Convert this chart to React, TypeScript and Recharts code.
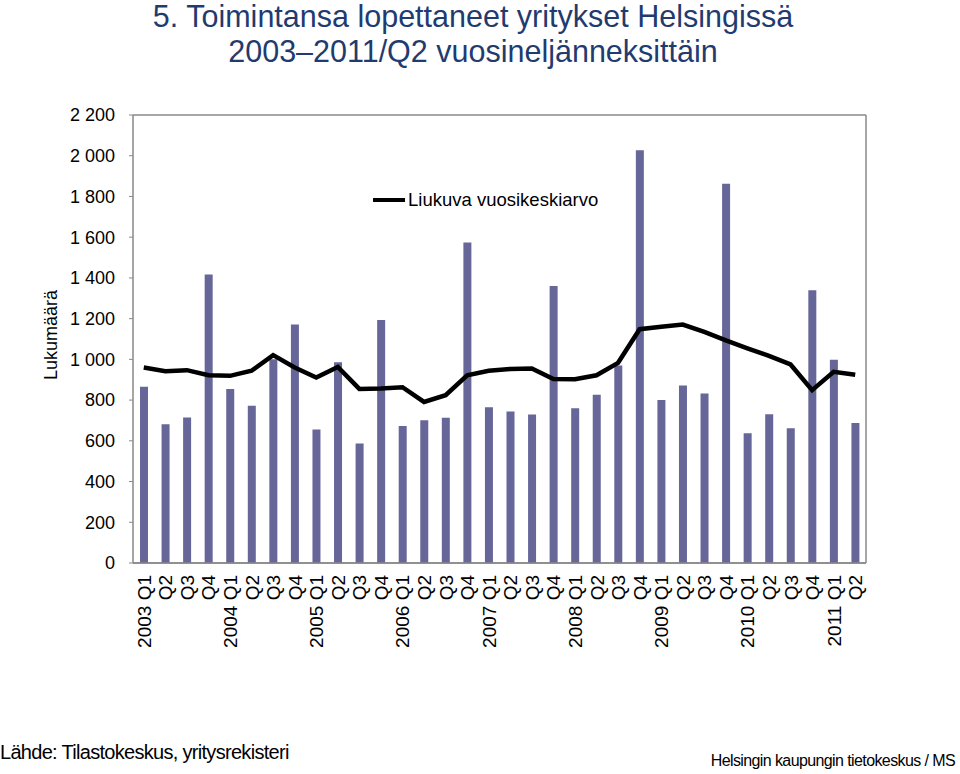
import React from 'react';
import { ComposedChart, Bar, Line, XAxis, YAxis, CartesianGrid } from 'recharts';

const quarters = [
  '2003 Q1', 'Q2', 'Q3', 'Q4',
  '2004 Q1', 'Q2', 'Q3', 'Q4',
  '2005 Q1', 'Q2', 'Q3', 'Q4',
  '2006 Q1', 'Q2', 'Q3', 'Q4',
  '2007 Q1', 'Q2', 'Q3', 'Q4',
  '2008 Q1', 'Q2', 'Q3', 'Q4',
  '2009 Q1', 'Q2', 'Q3', 'Q4',
  '2010 Q1', 'Q2', 'Q3', 'Q4',
  '2011 Q1', 'Q2',
];

const closures = [
  865, 681, 714, 1417,
  854, 772, 1000, 1171,
  655, 986, 587, 1193,
  673, 701, 713, 1574,
  765, 744, 729, 1360,
  760, 826, 970, 2027,
  800, 872, 832, 1862,
  637, 731, 662, 1340,
  998, 688,
];

const movingAvg = [
  960, 942, 947, 922,
  919, 944, 1021, 960,
  911, 963, 855, 857,
  863, 791, 824, 922,
  944, 953, 955, 903,
  902, 922, 983, 1148,
  1160, 1171, 1135, 1093,
  1054, 1017, 975, 849,
  939, 924,
];

const yTicks = [0, 200, 400, 600, 800, 1000, 1200, 1400, 1600, 1800, 2000, 2200];

const data = quarters.map((q, i) => ({ q, count: closures[i], avg: movingAvg[i] }));

const FONT = '"Liberation Sans", Arial, sans-serif';

const fmt = (v: number) => String(v).replace(/\B(?=(\d{3})+(?!\d))/g, ' ');

const QuarterTick = (props: any) => {
  const { x, y, payload } = props;
  const tx = x + 7;
  const ty = y + 4;
  return (
    <text x={tx} y={ty} transform={`rotate(-90, ${tx}, ${ty})`} textAnchor="end"
      fontSize={19} fill="#000" fontFamily={FONT}>
      {payload.value}
    </text>
  );
};

export default function App() {
  return (
    <div style={{ position: 'absolute', left: 0, top: 0, width: 960, height: 774, background: '#fff', fontFamily: FONT }}>
      <ComposedChart width={960} height={774} data={data}
        margin={{ top: 115, right: 0, bottom: 111, left: 0 }} barCategoryGap={0}>
        <CartesianGrid vertical={false} stroke="#888" strokeWidth={1.5} />
        <XAxis dataKey="q" interval={0} height={100} tick={<QuarterTick />}
          tickLine={false} axisLine={{ stroke: '#888', strokeWidth: 1.5 }} />
        <YAxis yAxisId="l" domain={[0, 2200]} ticks={yTicks} width={133}
          tickFormatter={fmt} tick={{ fontSize: 18, fill: '#000', fontFamily: FONT }}
          tickLine={{ stroke: '#888' }} tickSize={4} tickMargin={14}
          axisLine={{ stroke: '#888', strokeWidth: 1.5 }}
          label={{
            content: () => (
              <text x={57} y={335} transform="rotate(-90, 57, 335)" textAnchor="middle"
                fontSize={18} fill="#000" fontFamily={FONT}>Lukumäärä</text>
            ),
          }} />
        <YAxis yAxisId="r" orientation="right" domain={[0, 2200]} ticks={yTicks} width={94}
          tickFormatter={fmt} tick={{ fontSize: 18, fill: '#000', fontFamily: FONT, textAnchor: 'start' }}
          tickLine={false} tickMargin={16}
          axisLine={{ stroke: '#888', strokeWidth: 1.5 }} />
        <Bar yAxisId="l" dataKey="count" fill="#666699" barSize={8} isAnimationActive={false} />
        <Line yAxisId="l" dataKey="avg" type="linear" stroke="#000" strokeWidth={4.5} dot={false}
          isAnimationActive={false} />
      </ComposedChart>
      <div style={{ position: 'absolute', left: 337, top: 180, width: 294, height: 40, display: 'flex', alignItems: 'center', background: '#fff', fontSize: 18.5, color: '#000' }}>
        <span style={{ display: 'inline-block', width: 32, height: 4, background: '#000', marginLeft: 36, marginRight: 3 }} />
        <span>Liukuva vuosikeskiarvo</span>
      </div>
      <div style={{ position: 'absolute', left: 0, width: 946, top: -1, textAlign: 'center', color: '#1f3b6f', fontSize: 30.5, lineHeight: '35px', whiteSpace: 'nowrap' }}>
        5. Toimintansa lopettaneet yritykset Helsingissä<br />2003–2011/Q2 vuosineljänneksittäin
      </div>
      <div style={{ position: 'absolute', left: 0, top: 741, fontSize: 20, letterSpacing: -0.7, color: '#000' }}>
        Lähde: Tilastokeskus, yritysrekisteri
      </div>
      <div style={{ position: 'absolute', right: 5, top: 752, fontSize: 16, letterSpacing: -0.6, color: '#000' }}>
        Helsingin kaupungin tietokeskus / MS
      </div>
    </div>
  );
}
